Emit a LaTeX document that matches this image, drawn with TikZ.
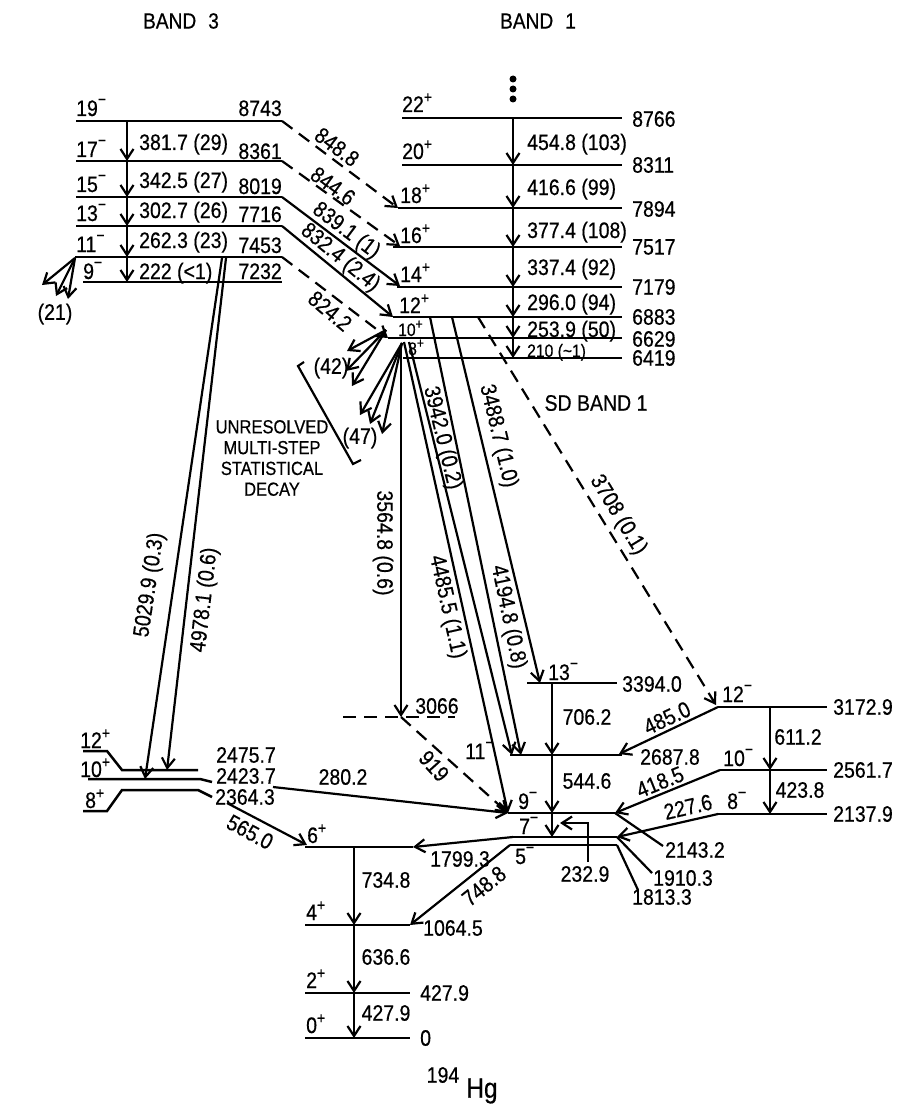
\documentclass[tikz,border=0pt]{standalone}
\usepackage{fontspec}
\setmainfont{Liberation Sans}[FakeStretch=0.87,FakeBold=0.5]
\usetikzlibrary{arrows.meta}
\newcommand{\jm}[1]{#1\raisebox{0.5em}{\fontsize{16}{16}\selectfont −}}
\newcommand{\jpl}[1]{#1\raisebox{0.42em}{\fontsize{16}{16}\selectfont +}}
\begin{document}
\begin{tikzpicture}[x=1pt,y=-1pt,
 lvl/.style={line width=2.5pt},
 tr/.style={line width=2.2pt,-{Straight Barb[length=10pt,width=13pt,line width=2.2pt]}},
 dtr/.style={tr,dash pattern=on 13pt off 8pt},
 dlvl/.style={lvl,dash pattern=on 13pt off 8pt},
 lead/.style={line width=2.2pt},
 txt/.style={font=\fontsize{22.4}{25}\selectfont,inner sep=0pt},
 sml/.style={font=\fontsize{18}{20}\selectfont,inner sep=0pt},
 lab/.style={txt,anchor=base west},
 en/.style={txt,anchor=west},
]
\useasboundingbox (0,0) rectangle (903,1110);

% headers
\node[txt,font=\fontsize{22}{24}\selectfont] (h3) at (181,21) {BAND\hspace{12pt}3};
\node[txt,font=\fontsize{22}{24}\selectfont] (h1) at (538,21) {BAND\hspace{12pt}1};

% ---------------- BAND 3 ----------------
\path (76,121) coordinate (b19L) (282,121) coordinate (b19R) (127,121) coordinate (b19v)
      (76,161) coordinate (b17L) (282,161) coordinate (b17R) (127,161) coordinate (b17v)
      (76,197) coordinate (b15L) (282,197) coordinate (b15R) (127,197) coordinate (b15v)
      (76,226) coordinate (b13L) (282,226) coordinate (b13R) (127,226) coordinate (b13v)
      (75,257) coordinate (b11L) (282,257) coordinate (b11R) (127,257) coordinate (b11v)
      (83,282) coordinate (b9L) (282,282) coordinate (b9R) (127,282) coordinate (b9v);
\draw[lvl] (b19L)--(b19R) (b17L)--(b17R) (b15L)--(b15R) (b13L)--(b13R) (b11L)--(b11R) (b9L)--(b9R);
\draw[tr] (b19v)--(b17v);
\draw[tr] (b17v)--(b15v);
\draw[tr] (b15v)--(b13v);
\draw[tr] (b13v)--(b11v);
\draw[tr] (b11v)--(b9v);

\node[lab] (s19) at (76,116) {\jm{19}};
\node[lab] (s17) at (76,157) {\jm{17}};
\node[lab] (s15) at (76,192) {\jm{15}};
\node[lab] (s13) at (76,221) {\jm{13}};
\node[lab] (s11) at (76,252) {\jm{11}};
\node[lab] (s9) at (83,279) {\jm{9}};
\node[txt,anchor=base east] (e8743) at (282,116) {8743};
\node[txt,anchor=base east] (e8361) at (282,159) {8361};
\node[txt,anchor=base east] (e8019) at (282,194) {8019};
\node[txt,anchor=base east] (e7716) at (282,222) {7716};
\node[txt,anchor=base east] (e7453) at (282,253) {7453};
\node[txt,anchor=base east] (e7232) at (282,279) {7232};
\node[lab] (g381) at (139,150) {381.7 (29)};
\node[lab] (g342) at (139,188) {342.5 (27)};
\node[lab] (g302) at (139,218) {302.7 (26)};
\node[lab] (g262) at (139,248) {262.3 (23)};
\node[lab] (g222) at (139,279) {222 (<1)};

% (21) fan
\path (75,258) coordinate (f21) (42,285) coordinate (t21a) (56,296) coordinate (t21b) (68,299) coordinate (t21c);
\draw[tr] (f21)--(t21a);
\draw[tr] (f21)--(t21b);
\draw[tr] (f21)--(t21c);
\node[txt] (n21) at (55,314) {(21)};

% ---------------- BAND 1 ----------------
\path (402,118) coordinate (a22L) (622,118) coordinate (a22R) (513,118) coordinate (a22v)
 (402,165) coordinate (a20L) (622,165) coordinate (a20R) (513,165) coordinate (a20v)
 (398,208) coordinate (a18L) (622,208) coordinate (a18R) (513,208) coordinate (a18v)
 (393,247) coordinate (a16L) (622,247) coordinate (a16R) (513,247) coordinate (a16v)
 (397,287) coordinate (a14L) (622,287) coordinate (a14R) (513,287) coordinate (a14v)
 (393,317) coordinate (a12L) (622,317) coordinate (a12R) (513,317) coordinate (a12v)
 (388,338) coordinate (a10L) (622,338) coordinate (a10R) (513,338) coordinate (a10v)
 (403,358) coordinate (a8L) (622,358) coordinate (a8R) (513,358) coordinate (a8v);
\draw[lvl] (a22L)--(a22R) (a20L)--(a20R) (a18L)--(a18R) (a16L)--(a16R) (a14L)--(a14R)
           (a12L)--(a12R) (a10L)--(a10R) (a8L)--(a8R);
\fill (513,79) circle (3.5) (513,89) circle (3.5) (513,99) circle (3.5);
\draw[tr] (a22v)--(a20v);
\draw[tr] (a20v)--(a18v);
\draw[tr] (a18v)--(a16v);
\draw[tr] (a16v)--(a14v);
\draw[tr] (a14v)--(a12v);
\draw[tr] (a12v)--(a10v);
\draw[tr] (a10v)--(a8v);

\node[lab] (s22) at (402,112) {\jpl{22}};
\node[lab] (s20) at (402,159) {\jpl{20}};
\node[lab] (s18) at (400,203) {\jpl{18}};
\node[lab] (s16) at (400,243) {\jpl{16}};
\node[lab] (s14) at (400,282) {\jpl{14}};
\node[lab] (s12) at (399,313) {\jpl{12}};
\node[sml,anchor=base west] (s10) at (398,336) {10\raisebox{0.4em}{\fontsize{14}{14}\selectfont +}};
\node[sml,anchor=base west] (s8) at (408,355) {8\raisebox{0.4em}{\fontsize{14}{14}\selectfont +}};
\node[en] (e8766) at (632,119) {8766};
\node[en] (e8311) at (632,165) {8311};
\node[en] (e7894) at (632,209) {7894};
\node[en] (e7517) at (632,247) {7517};
\node[en] (e7179) at (632,287) {7179};
\node[en] (e6883) at (632,317) {6883};
\node[en] (e6629) at (632,339) {6629};
\node[en] (e6419) at (632,358) {6419};
\node[lab] (g454) at (527,150) {454.8 (103)};
\node[lab] (g416) at (527,195) {416.6 (99)};
\node[lab] (g377) at (527,238) {377.4 (108)};
\node[lab] (g337) at (527,275) {337.4 (92)};
\node[lab] (g296) at (527,310) {296.0 (94)};
\node[lab] (g253) at (527,337) {253.9 (50)};
\node[sml,anchor=base west] (g210) at (527,357) {210 (\textasciitilde 1)};
\node[txt] (sdb) at (596,403) {SD BAND 1};

% interband transitions
\draw[dtr] (b19R)--(a18L);
\draw[dtr] (b17R)--(400,246) coordinate (a16in);
\draw[tr] (b15R)--(400,286) coordinate (a14in);
\draw[tr] (b13R)--(a12L);
\draw[dtr] (b11R)--(a10L);
\node[txt,rotate=-37] (g848) at (337,147) {848.8};
\node[txt,rotate=-36] (g844) at (333,186) {844.6};
\node[txt,rotate=-37] (g839) at (346,231) {839.1 (1)};
\node[txt,rotate=-39] (g832) at (340,258) {832.4 (2.4)};
\node[txt,rotate=-40] (g824) at (330,311) {824.2};

% statistical decay fans
\path (386,330) coordinate (f42) (347,351) coordinate (t42a) (346,371) coordinate (t42b) (352,386) coordinate (t42c)
      (402,343) coordinate (f47) (360,415) coordinate (t47a) (370,424) coordinate (t47b) (382,434) coordinate (t47c);
\draw[tr] (f42)--(t42a);
\draw[tr] (f42)--(t42b);
\draw[tr] (f42)--(t42c);
\draw[tr] (f47)--(t47a);
\draw[tr] (f47)--(t47b);
\draw[tr] (f47)--(t47c);
\node[txt] (n42) at (331,368) {(42)};
\node[txt] (n47) at (360,438) {(47)};
\draw[lead] (304,362) coordinate (br1) -- (298,366) -- (353,464) -- (361,460) coordinate (br2);
\node[txt,font=\fontsize{19}{20.8}\selectfont,align=center] (unres) at (272,458)
  {UNRESOLVED\\MULTI-STEP\\STATISTICAL\\DECAY};

% ---------------- decay-out region ----------------
\path (401,717) coordinate (c3066) (343,717) coordinate (d3066L) (455,717) coordinate (d3066R)
  (401,345) coordinate (s3564)
  (527,683) coordinate (n13L) (617,683) coordinate (n13R) (552,683) coordinate (n13v)
  (510,755) coordinate (n11L) (622,755) coordinate (n11R) (552,755) coordinate (n11v)
  (512,755) coordinate (n11a) (521,755) coordinate (n11b)
  (508,813) coordinate (n9L) (615,813) coordinate (n9R) (552,813) coordinate (n9v)
  (510,837) coordinate (n7L) (617,837) coordinate (n7R) (552,837) coordinate (n7v)
  (510,845) coordinate (n5L) (617,845) coordinate (n5R)
  (718,707) coordinate (n12L) (827,707) coordinate (n12R) (770,707) coordinate (n12v)
  (720,770) coordinate (n10L) (827,770) coordinate (n10R) (770,770) coordinate (n10v)
  (718,814) coordinate (n8L) (827,814) coordinate (n8R) (770,814) coordinate (n8v);

\draw[dlvl] (d3066L)--(d3066R);
\draw[lvl] (n13L)--(n13R) (n11L)--(n11R) (n9L)--(n9R) (n7L)--(n7R) (n5L)--(n5R)
           (n12L)--(n12R) (n10L)--(n10R) (n8L)--(n8R);

% linking transitions
\draw[tr] (s3564)--(c3066);
\draw[dtr] (c3066)--(n9L);
\draw[tr] (404,342) coordinate (s4485) -- (n9L);
\draw[tr] (409,342) coordinate (s3942) -- (n11a);
\draw[tr] (430,317) coordinate (s4194) -- (n11b);
\draw[tr] (452,317) coordinate (s3488) -- (540,683) coordinate (n13in);
\draw[dtr] (478,317) coordinate (s3708) -- (716,705) coordinate (n12in);
\node[txt,rotate=-90] (g3564) at (383,543) {3564.8 (0.6)};
\node[txt,rotate=-76.4] (g3942) at (442,438) {3942.0 (0.2)};
\node[txt,rotate=-77.5] (g4485) at (447,607) {4485.5 (1.1)};
\node[txt,rotate=-78.3] (g4194) at (508,617) {4194.8 (0.8)};
\node[txt,rotate=-76.5] (g3488) at (498,436) {3488.7 (1.0)};
\node[txt,rotate=-58.5] (g3708) at (618,515) {3708 (0.1)};
\node[txt] (e3066) at (437,706) {3066};
\node[txt,rotate=-48] (g919) at (434,766) {919};

% negative-parity sequence
\draw[tr] (n13v)--(n11v);
\draw[tr] (n11v)--(n9v);
\draw[tr] (n9v)--(n7v);
\draw[tr] (n12v)--(n10v);
\draw[tr] (n10v)--(n8v);
\draw[tr] (n12L)--(619,754) coordinate (n11in);
\draw[tr] (n10L)--(n9R);
\draw[tr] (n8L)--(n7R);
\draw[tr] (588,862) coordinate (k1) -- (588,823) -- (560,823) coordinate (k3);
\draw[lead] (n9R)--(663,846) coordinate (l2143);
\draw[lead] (n7R)--(652,873) coordinate (l1910);
\draw[lead] (n5R)--(638,890) coordinate (l1813);

\node[lab] (s13m) at (548,680) {\jm{13}};
\node[en] (e3394) at (622,684) {3394.0};
\node[txt] (g706) at (587,717) {706.2};
\node[lab] (s11m) at (465,759) {\jm{11}};
\node[txt] (e2687) at (670,757) {2687.8};
\node[txt] (g544) at (587,781) {544.6};
\node[lab] (s9m) at (518,809) {\jm{9}};
\node[lab] (s7m) at (519,834) {\jm{7}};
\node[lab] (s5m) at (515,864) {\jm{5}};
\node[txt] (g232) at (585,874) {232.9};
\node[en] (e2143) at (665,850) {2143.2};
\node[en] (e1910) at (653,878) {1910.3};
\node[en] (e1813) at (632,897) {1813.3};
\node[lab] (s12m) at (722,702) {\jm{12}};
\node[en] (e3172) at (833,707) {3172.9};
\node[txt] (g611) at (798,737) {611.2};
\node[lab] (s10m) at (723,766) {\jm{10}};
\node[en] (e2561) at (833,770) {2561.7};
\node[txt] (g423) at (800,790) {423.8};
\node[lab] (s8m) at (727,809) {\jm{8}};
\node[en] (e2137) at (833,814) {2137.9};
\node[txt,rotate=25] (g485) at (667,718) {485.0};
\node[txt,rotate=22] (g418) at (660,782) {418.5};
\node[txt,rotate=13] (g227) at (688,807) {227.6};

% ---------------- ground band ----------------
\path (305,847) coordinate (g6L) (413,847) coordinate (g6R) (354,847) coordinate (g6v)
      (305,925) coordinate (g4L) (410,925) coordinate (g4R) (354,925) coordinate (g4v)
      (305,993) coordinate (g2L) (410,993) coordinate (g2R) (354,993) coordinate (g2v)
      (305,1038) coordinate (g0L) (410,1038) coordinate (g0R) (354,1038) coordinate (g0v);
\draw[lvl] (g6L)--(g6R) (g4L)--(g4R) (g2L)--(g2R) (g0L)--(g0R);
\draw[tr] (g6v)--(g4v);
\draw[tr] (g4v)--(g2v);
\draw[tr] (g2v)--(g0v);
\draw[tr] (513,837) coordinate (s1799) -- (g6R);
\draw[tr] (n5L)--(g4R);
\node[lab] (s6p) at (307,843) {\jpl{6}};
\node[lab] (s4p) at (306,920) {\jpl{4}};
\node[lab] (s2p) at (306,988) {\jpl{2}};
\node[lab] (s0p) at (306,1033) {\jpl{0}};
\node[txt] (g1799) at (460,859) {1799.3};
\node[txt] (g734) at (386,880) {734.8};
\node[txt] (g636) at (386,957) {636.6};
\node[txt] (g427) at (386,1013) {427.9};
\node[en] (e1064) at (423,928) {1064.5};
\node[en] (e427) at (420,993) {427.9};
\node[en] (e0) at (420,1038) {0};
\node[txt,rotate=39] (g748) at (484,886) {748.8};
\node[txt] (n194) at (443,1075) {194};
\node[txt,font=\fontsize{28}{30}\selectfont] (nHg) at (482,1091) {Hg};

% ---------------- band 3 low levels ----------------
\draw[lvl] (83,751) coordinate (p12a) -- (107,751) -- (122,770) -- (198,770) coordinate (p12b);
\draw[lvl] (88,779) coordinate (p10a) -- (200,779) -- (212,782) coordinate (p10b);
\draw[lvl] (83,811) coordinate (p8a) -- (107,811) -- (122,790) -- (198,790) -- (212,797) coordinate (p8b);
\node[lab] (s12p) at (80,748) {\jpl{12}};
\node[lab] (s10p) at (80,777) {\jpl{10}};
\node[lab] (s8p) at (85,808) {\jpl{8}};
\node[en] (e2475) at (216,755) {2475.7};
\node[en] (e2423) at (216,776) {2423.7};
\node[en] (e2364) at (215,797) {2364.3};
\draw[tr] (222,258) coordinate (s5029) -- (145,779) coordinate (t5029);
\draw[tr] (226,258) coordinate (s4978) -- (167,770) coordinate (t4978);
\node[txt,rotate=81.6] (g5029) at (150,585) {5029.9 (0.3)};
\node[txt,rotate=83.4] (g4978) at (205,600) {4978.1 (0.6)};
\draw[tr] (273,787) coordinate (s280) -- (n9L);
\node[txt] (g280) at (343,777) {280.2};
\draw[tr] (227,803) coordinate (s565) -- (307,845) coordinate (t565);
\node[txt,rotate=-28] (g565) at (250,832) {565.0};
\end{tikzpicture}
\end{document}
